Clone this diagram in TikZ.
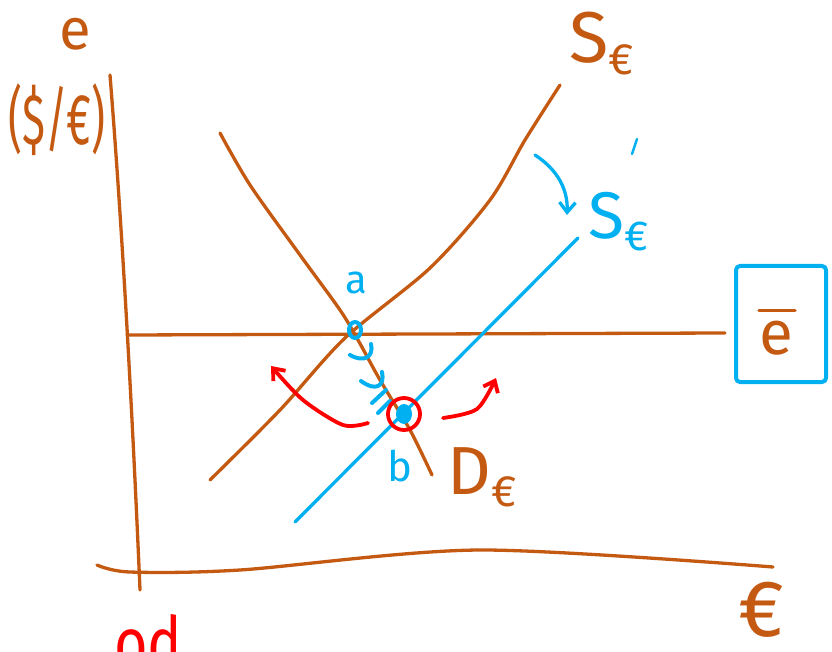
\documentclass[tikz,border=0pt]{standalone}
\usepackage{fontspec}
\setmainfont{Fira Sans}
\usetikzlibrary{arrows.meta,calc}
\definecolor{CurveClr}{rgb}{0.77,0.35,0.07}
\definecolor{ShiftClr}{rgb}{0,0.69,0.94}
\definecolor{MoveClr}{rgb}{1,0,0}

\begin{document}
\begin{tikzpicture}[x=1pt,y=-1pt,line cap=round,line join=round]
\tikzset{
  curveline/.style={CurveClr,line width=3.3pt},
  shiftline/.style={ShiftClr,line width=3.3pt},
  moveline/.style={MoveClr,line width=3.8pt},
  barb/.style={-{Straight Barb[length=10pt,width=16pt]}},
  lbl/.style={inner sep=0pt,font=\fontsize{#1}{#1}\selectfont}
}
\useasboundingbox (0,0) rectangle (832,652);

% axes
\draw[curveline] (110,75) .. controls (124,250) and (134,450) .. (140,590);
\draw[curveline] plot[smooth] coordinates {(97,565) (130,572) (240,570) (480,550) (773,567)};

% points
\coordinate (a) at (355,330);
\coordinate (b) at (404,414);

% e bar line
\draw[curveline] (127,335) -- (725,333);

% supply and demand
\draw[curveline] plot[smooth] coordinates {(210,480) (280,410) (345,338) (430,268) (490,200) (525,140) (560,85)};
\draw[curveline] plot[smooth] coordinates {(220,133) (250,185) (300,255) (340,310) (358,340) (380,380) (410,430) (432,475)};

% shifted supply
\coordinate (Sp0) at (295,522);
\coordinate (Sp1) at (578,238);
\draw[shiftline] (Sp0) -- (Sp1);
\draw[shiftline,barb] (535,155) .. controls (558,170) and (568,190) .. (567,215);

% a to b along demand
\begin{scope}[shiftline,line width=4pt]
\draw (371,344) .. controls (374,357) and (364,363) .. (350,355);
\draw (382,372) .. controls (385,386) and (376,392) .. (361,381);
\draw (386,390) -- (372,403);
\draw (390,401) -- (378,413);
\end{scope}

\draw[shiftline,line width=4pt] (a) ellipse[x radius=6,y radius=8];
\fill[ShiftClr] (b) ellipse[x radius=8,y radius=10];
\draw[moveline] (b) circle[radius=16];

% pressure arrows
\draw[moveline,barb] plot[smooth] coordinates {(368,423) (343,425) (303,400) (271,366)};
\draw[moveline,barb] plot[smooth] coordinates {(443,418) (477,409) (496,378)};

% labels
\node[lbl=58,CurveClr] (eLbl) at (75,34) {e};
\node[lbl=72,CurveClr] (unitLbl) at (57,120) {\scalebox{0.6}[1]{(\$/€)}};
\node[lbl=72,CurveClr] (SLbl) at (602,44) {S\raisebox{-12pt}{\fontsize{44}{44}\selectfont €}};
\node[lbl=66,ShiftClr] (SpLbl) at (619,222) {S\raisebox{-12pt}{\fontsize{42}{42}\selectfont €}};
\draw[ShiftClr,line width=2.5pt] (637,139) -- (632,154);
\node[lbl=68,CurveClr] (DLbl) at (482,477) {D\raisebox{-12pt}{\fontsize{44}{44}\selectfont €}};
\node[lbl=40,ShiftClr] (aLbl) at (356,283) {a};
\node[lbl=42,ShiftClr] (bLbl) at (400,466) {b};
\node[lbl=80,CurveClr] (euroLbl) at (762,610) {€};
\node[draw=ShiftClr,line width=4pt,minimum width=90pt,minimum height=116pt,rounded corners=4pt] (ebarBox) at (781,324) {};
\node[lbl=62,CurveClr] (ebarLbl) at (776,338) {e};
\draw[curveline] ($(ebarLbl.north west)+(0,-10)$) -- ($(ebarLbl.north east)+(2,-10)$);
\node[lbl=72,MoveClr,anchor=base west] (edLbl) at (114,668) {\scalebox{0.8}[1]{od}};
\end{tikzpicture}
\end{document}
